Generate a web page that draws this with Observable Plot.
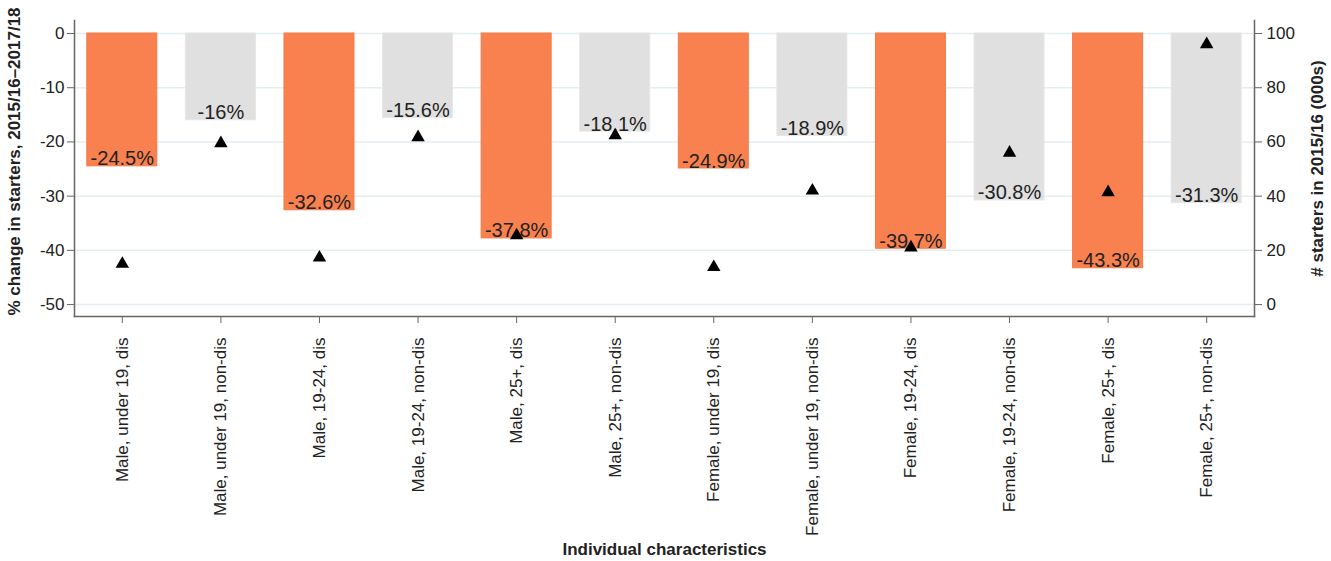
<!DOCTYPE html>
<html>
<head>
<meta charset="utf-8">
<script src="https://cdn.jsdelivr.net/npm/d3@7"></script>
<script src="https://cdn.jsdelivr.net/npm/@observablehq/plot@0.6"></script>
<style>
  html, body { margin: 0; padding: 0; background: #fff; }
  #chart { width: 1331px; height: 561px; }
</style>
</head>
<body>
<div id="chart"></div>
<script>
const categories = [
  "Male, under 19, dis", "Male, under 19, non-dis",
  "Male, 19-24, dis", "Male, 19-24, non-dis",
  "Male, 25+, dis", "Male, 25+, non-dis",
  "Female, under 19, dis", "Female, under 19, non-dis",
  "Female, 19-24, dis", "Female, 19-24, non-dis",
  "Female, 25+, dis", "Female, 25+, non-dis"
];
const pctChange = [-24.5, -16, -32.6, -15.6, -37.8, -18.1, -24.9, -18.9, -39.7, -30.8, -43.3, -31.3];
const starters = [15, 59.5, 17.3, 61.7, 25.5, 62.4, 13.8, 42, 21, 56, 41.4, 96];
const leftTicks = [-50, -40, -30, -20, -10, 0];
const rightTicks = [0, 20, 40, 60, 80, 100];
const leftDomain = [-52.2, 2.4];
const rightRange = [-50, 0];   // left-axis values that right axis 0 and 100 align with
const rightMax = 100;

const toLeft = v => rightRange[0] + (v / rightMax) * (rightRange[1] - rightRange[0]);

const rows = categories.map((c, i) => ({
  cat: c,
  pct: pctChange[i],
  starters: starters[i],
  group: c.endsWith("non-dis") ? "non-dis" : "dis"
}));

const font = "'Liberation Sans', Arial, sans-serif";

const chart = Plot.plot({
  width: 1331,
  height: 561,
  marginLeft: 74,
  marginRight: 77,
  marginTop: 20,
  marginBottom: 245,
  style: { fontFamily: font, fontSize: "17px", color: "#222", background: "#fff" },
  x: { domain: categories, padding: 0.29, paddingOuter: 0.13, round: false },
  y: { domain: leftDomain },
  color: { domain: ["dis", "non-dis"], range: ["#f8814f", "#e0e0e0"] },
  marks: [
    Plot.gridY(leftTicks, { stroke: "#e4edf1", strokeOpacity: 1, strokeWidth: 1.5 }),
    Plot.barY(rows, { x: "cat", y1: 0, y2: "pct", fill: "group", stroke: d => d.group === "dis" ? "#f67a45" : "#e6e6e6", strokeWidth: 1 }),
    Plot.text(rows, { x: "cat", y: "pct", text: d => `${d.pct}%`, lineAnchor: "bottom", dy: -1, fontSize: 20, fill: "#222" }),
    Plot.dot(rows, { x: "cat", y: d => toLeft(d.starters), symbol: "triangle", r: 5, fill: "#000", stroke: "none" }),
    Plot.frame({ anchor: "left", stroke: "#666", strokeWidth: 1.5 }),
    Plot.frame({ anchor: "right", stroke: "#666", strokeWidth: 1.5 }),
    Plot.frame({ anchor: "bottom", stroke: "#666", strokeWidth: 1.5 }),
    Plot.axisY(leftTicks, {
      anchor: "left", tickSize: 7, tickPadding: 3, stroke: "#666",
      tickFormat: d => String(d),
      label: "% change in starters, 2015/16\u20132017/18", labelAnchor: "center", labelArrow: "none",
      labelOffset: 67
    }),
    Plot.axisY(rightTicks.map(toLeft), {
      anchor: "right", tickSize: 7, tickPadding: 5, stroke: "#666",
      tickFormat: d => String(Math.round((d - rightRange[0]) / (rightRange[1] - rightRange[0]) * rightMax)),
      label: "# starters in 2015/16 (000s)", labelAnchor: "center", labelArrow: "none",
      labelOffset: 68
    }),
    Plot.axisX({
      anchor: "bottom", tickSize: 7, tickPadding: 14, tickRotate: -90, stroke: "#666",
      label: "Individual characteristics", labelAnchor: "center", labelArrow: "none",
      labelOffset: 238
    })
  ]
});

chart.querySelectorAll("g[aria-label='y-axis label'] text, g[aria-label='x-axis label'] text").forEach(t => {
  t.setAttribute("font-weight", "bold");
});
// nudge the left axis title slightly upward, as in the reference
const yLabels = chart.querySelectorAll("g[aria-label='y-axis label']");
if (yLabels.length) {
  const g = yLabels[0];
  const prev = g.getAttribute("transform") || "";
  g.setAttribute("transform", (prev + " translate(0,-7)").trim());
}
document.getElementById("chart").appendChild(chart);
</script>
</body>
</html>
